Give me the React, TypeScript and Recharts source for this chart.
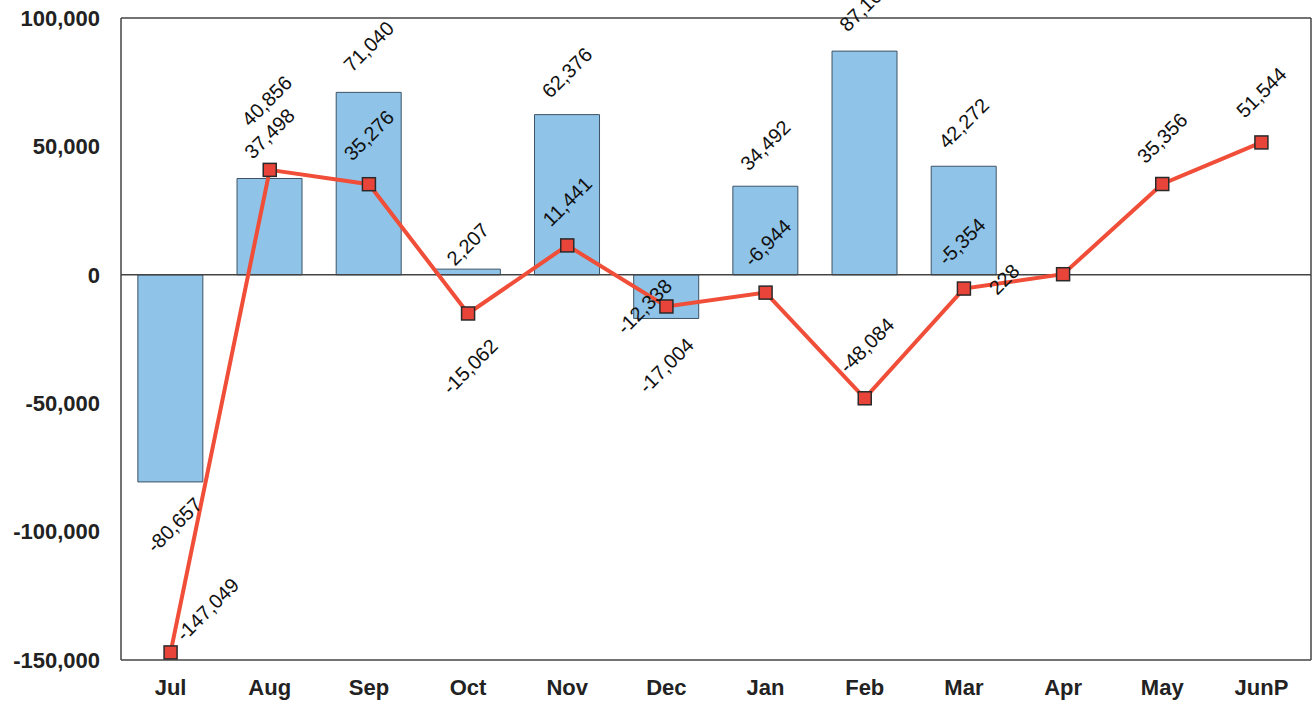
import React from 'react';
import {
  ComposedChart, Bar, Line, XAxis, YAxis, ReferenceLine, LabelList
} from 'recharts';

// Monthly values
const months = ['Jul', 'Aug', 'Sep', 'Oct', 'Nov', 'Dec', 'Jan', 'Feb', 'Mar', 'Apr', 'May', 'JunP'];
const barValues = [-80657, 37498, 71040, 2207, 62376, -17004, 34492, 87106, 42272, null, null, null];
const lineValues = [-147049, 40856, 35276, -15062, 11441, -12338, -6944, -48084, -5354, 228, 35356, 51544];
const yTicks = [-150000, -100000, -50000, 0, 50000, 100000];

// label placement tweaks (like the hand-moved Excel labels)
const barLabelOffsets = [[4, 43], [0, -45], [0, -46], [0, -25], [0, -42], [0, 47], [0, -41], [0, -45], [0, -43], [0, 0], [0, 0], [0, 0]];
const lineLabelOffsets = [[37, -43], [-3, -69], [0, -49], [2, 53], [0, -44], [-22, 0], [2, -50], [2, -53], [-2, -47], [-59, 5], [0, -46], [0, -50]];

const data = months.map((m, i) => ({ month: m, bar: barValues[i], line: lineValues[i] }));

const fmt = (v: number) => v.toLocaleString('en-US');
const FONT = '"Liberation Sans", Arial, sans-serif';

const RotatedLabel = (text: string, cx: number, cy: number) => (
  <text
    x={cx}
    y={cy}
    transform={`rotate(-45 ${cx} ${cy})`}
    textAnchor="middle"
    dominantBaseline="central"
    fontSize={20}
    fontFamily={FONT}
    fill="#111"
  >
    {text}
  </text>
);

const barLabel = (props: any) => {
  const { x, y, width, height, value, index } = props;
  if (value == null) return null;
  const top = Math.min(y, y + height);
  const bottom = Math.max(y, y + height);
  const end = value >= 0 ? top : bottom;
  const [dx, dy] = barLabelOffsets[index];
  return RotatedLabel(fmt(value), x + width / 2 + dx, end + dy);
};

const lineLabel = (props: any) => {
  const { x, y, value, index } = props;
  if (value == null) return null;
  const [dx, dy] = lineLabelOffsets[index];
  return RotatedLabel(fmt(value), x + dx, y + dy);
};

const SquareDot = (props: any) => {
  const { cx, cy, index } = props;
  if (cx == null || cy == null) return null;
  return <rect key={`dot-${index}`} x={cx - 6.5} y={cy - 6.5} width={13} height={13} fill="#e8443a" stroke="#2a2a2a" strokeWidth={1.5} />;
};

const App: React.FC = () => {
  return (
    <div style={{ position: 'absolute', left: 0, top: 0, width: 1314, height: 704, background: '#fff' }}>
      <ComposedChart
        width={1314}
        height={704}
        data={data}
        margin={{ top: 0, right: 0, bottom: 0, left: 0 }}
        barCategoryGap="17%"
      >
        <XAxis
          dataKey="month"
          height={44}
          axisLine={{ stroke: '#444', strokeWidth: 1.5 }}
          tickLine={false}
          tickSize={0}
          tickMargin={19}
          tick={{ fontSize: 22, fontWeight: 'bold', fill: '#222', fontFamily: FONT }}
          interval={0}
        />
        <XAxis xAxisId="top" dataKey="month" orientation="top" height={18} tick={false} tickLine={false} axisLine={{ stroke: '#444', strokeWidth: 1.5 }} />
        <YAxis
          width={121}
          domain={[-150000, 100000]}
          ticks={yTicks}
          tickFormatter={fmt}
          axisLine={{ stroke: '#444', strokeWidth: 1.5 }}
          tickLine={false}
          tickSize={0}
          tickMargin={21}
          tick={{ fontSize: 22, fontWeight: 'bold', fill: '#222', fontFamily: FONT }}
          allowDataOverflow
        />
        <YAxis yAxisId="right" orientation="right" width={3} domain={[-150000, 100000]} tick={false} tickLine={false} axisLine={{ stroke: '#444', strokeWidth: 1.5 }} />
        <ReferenceLine y={0} stroke="#444" strokeWidth={1.5} />
        <Bar dataKey="bar" fill="#8fc4e8" stroke="#3e5366" strokeWidth={1} isAnimationActive={false}>
          <LabelList dataKey="bar" content={barLabel} />
        </Bar>
        <Line
          dataKey="line"
          stroke="#f04e38"
          strokeWidth={4}
          dot={SquareDot}
          activeDot={false}
          isAnimationActive={false}
        >
          <LabelList dataKey="line" content={lineLabel} />
        </Line>
      </ComposedChart>
    </div>
  );
};

export default App;
